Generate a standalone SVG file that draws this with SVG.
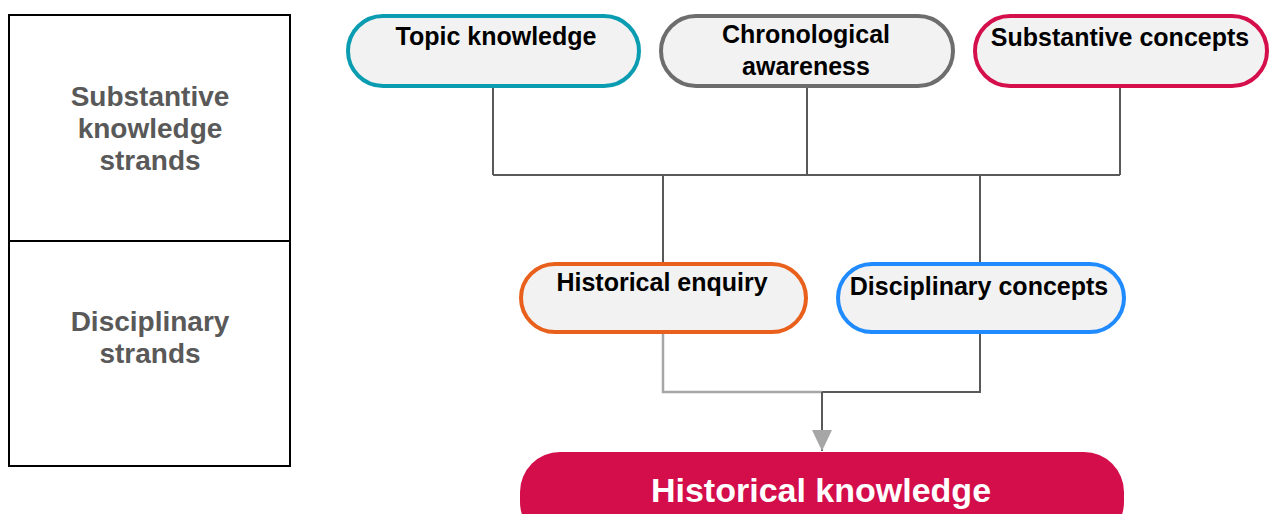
<svg xmlns="http://www.w3.org/2000/svg" width="1275" height="514" viewBox="0 0 1275 514">
<style>
.pill{fill:#f2f2f2;stroke-width:4}
.t{font-family:"Liberation Sans",Arial,sans-serif;font-weight:bold;font-size:25px;fill:#000;text-anchor:middle}
.side{font-family:"Liberation Sans",Arial,sans-serif;font-weight:bold;font-size:28px;fill:#595959;text-anchor:middle}
.c{fill:none;stroke:#595959;stroke-width:2}
</style>
<rect width="1275" height="514" fill="#fff"/>
<g id="legend">
<rect x="9" y="15" width="281" height="451" fill="#fff" stroke="#000" stroke-width="2"/>
<line x1="9" y1="241" x2="290" y2="241" stroke="#000" stroke-width="2"/>
<text class="side" x="150" y="106">Substantive</text>
<text class="side" x="150" y="138">knowledge</text>
<text class="side" x="150" y="170">strands</text>
<text class="side" x="150" y="331">Disciplinary</text>
<text class="side" x="150" y="363">strands</text>
</g>
<g id="connectors">
<path class="c" d="M493,87 V175 M807,87 V175 M1120,87 V175 M493,175 H1120 M663,175 V263 M980,175 V263"/>
<path d="M663,333 V392 H822" fill="none" stroke="#a6a6a6" stroke-width="2.5"/>
<path class="c" d="M980,333 V392 H822"/>
<line x1="822" y1="392" x2="822" y2="451" stroke="#595959" stroke-width="2"/>
<path d="M812,430 L832,430 L822,451 Z" fill="#a6a6a6"/>
</g>
<g id="topic">
<rect class="pill" x="348" y="16" width="291" height="70" rx="35" stroke="#0a9cb0"/>
<text class="t" x="496" y="45">Topic knowledge</text>
</g>
<g id="chrono">
<rect class="pill" x="661" y="16" width="292" height="70" rx="35" stroke="#6d6d6d"/>
<text class="t" x="806" y="43">Chronological</text>
<text class="t" x="806" y="75">awareness</text>
</g>
<g id="subst">
<rect class="pill" x="975" y="16" width="292" height="70" rx="35" stroke="#d50f4c"/>
<text class="t" x="1120" y="46">Substantive concepts</text>
</g>
<g id="enquiry">
<rect class="pill" x="521" y="264" width="285" height="68" rx="34" stroke="#e9601c"/>
<text class="t" x="662" y="291">Historical enquiry</text>
</g>
<g id="disc">
<rect class="pill" x="838" y="264" width="286" height="68" rx="34" stroke="#1f8bff"/>
<text class="t" x="979" y="295">Disciplinary concepts</text>
</g>
<g id="hist">
<rect x="520" y="452" width="604" height="90" rx="40" fill="#d30e4b"/>
<text x="821" y="502" font-family="Liberation Sans, Arial, sans-serif" font-weight="bold" font-size="34" fill="#fff" text-anchor="middle">Historical knowledge</text>
</g>
</svg>
